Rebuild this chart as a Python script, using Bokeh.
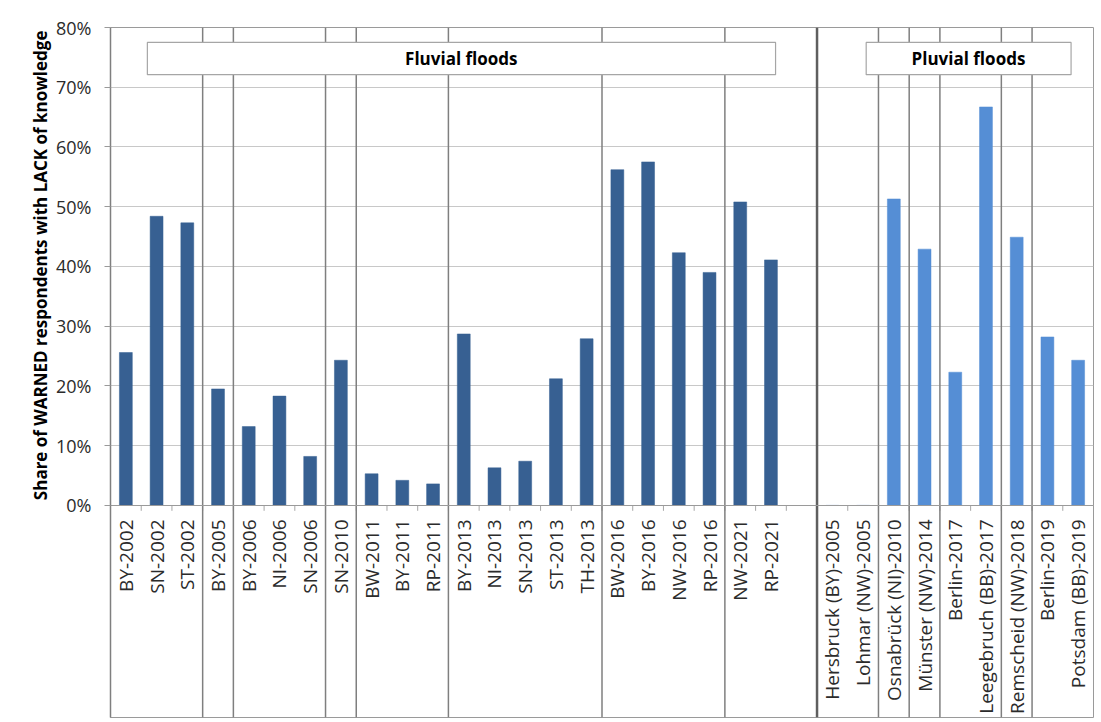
import math
from itertools import accumulate
from bokeh.plotting import figure
from bokeh.models import FactorRange, Range1d, FixedTicker, PrintfTickFormatter, Title
from bokeh.embed import file_html
from bokeh.resources import INLINE
from bokeh.core.properties import value

# ---------------- data ----------------
fluvial_groups = [
    ["BY-2002", "SN-2002", "ST-2002"],
    ["BY-2005"],
    ["BY-2006", "NI-2006", "SN-2006"],
    ["SN-2010"],
    ["BW-2011", "BY-2011", "RP-2011"],
    ["BY-2013", "NI-2013", "SN-2013", "ST-2013", "TH-2013"],
    ["BW-2016", "BY-2016", "NW-2016", "RP-2016"],
    ["NW-2021", "RP-2021"],
]
fluvial_share = [25.6, 48.4, 47.3, 19.5, 13.2, 18.3, 8.2, 24.3, 5.3, 4.2, 3.6,
                 28.7, 6.3, 7.4, 21.2, 27.9, 56.2, 57.5, 42.3, 39.0, 50.8, 41.1]

pluvial_groups = [
    ["Hersbruck (BY)-2005", "Lohmar (NW)-2005"],
    ["Osnabrück (NI)-2010"],
    ["Münster (NW)-2014"],
    ["Berlin-2017", "Leegebruch (BB)-2017"],
    ["Remscheid (NW)-2018"],
    ["Berlin-2019", "Potsdam (BB)-2019"],
]
pluvial_share = [0.0, 0.0, 51.3, 42.9, 22.3, 66.7, 44.9, 28.2, 24.3]

spacer = " "  # empty slot closing the fluvial block
y_ticks = [0, 10, 20, 30, 40, 50, 60, 70, 80]
y_title = "Share of WARNED respondents with LACK of knowledge"
fluvial_title = "Fluvial floods"
pluvial_title = "Pluvial floods"

# ---------------- derived ----------------
fluvial_events = [e for g in fluvial_groups for e in g]
pluvial_events = [e for g in pluvial_groups for e in g]
fl_groups_full = fluvial_groups[:-1] + [fluvial_groups[-1] + [spacer]]
categories = [e for g in fl_groups_full for e in g] + pluvial_events

fl_bounds = list(accumulate(len(g) for g in fl_groups_full))
divider = fl_bounds[-1]
pl_bounds = [divider + b for b in accumulate(len(g) for g in pluvial_groups)]
inner_bounds = fl_bounds[:-1] + pl_bounds[:-1]

Y_BOTTOM = -35.5
Y_TOP = 80

FONT = "Open Sans"
TEXT = "#2b2b2b"
DARK_BLUE = "#376092"
LIGHT_BLUE = "#558ED5"

p = figure(
    width=1096, height=720,
    x_range=FactorRange(factors=categories),
    y_range=Range1d(Y_BOTTOM, Y_TOP),
    output_backend="svg", toolbar_location=None,
    min_border_left=110, min_border_top=27, min_border_right=3, min_border_bottom=3,
)
p.outline_line_color = "#9a9a9a"
p.outline_line_width = 1

# grid
p.xgrid.grid_line_color = None
p.ygrid.ticker = FixedTicker(ticks=y_ticks)
p.ygrid.grid_line_color = "#c8c8c8"
p.ygrid.grid_line_width = 1

# y axis
p.yaxis.ticker = FixedTicker(ticks=y_ticks)
p.yaxis.formatter = PrintfTickFormatter(format="%d%%")
p.yaxis.axis_line_color = "#7f7f7f"
p.yaxis.axis_line_width = 1.5
p.yaxis.major_tick_line_color = "#9a9a9a"
p.yaxis.major_tick_in = 0
p.yaxis.major_tick_out = 6
p.yaxis.minor_tick_line_color = None
p.yaxis.major_label_standoff = 13
p.yaxis.major_label_text_font = FONT
p.yaxis.major_label_text_font_size = "18px"
p.yaxis.major_label_text_color = TEXT

# x axis at 0%
p.xaxis.fixed_location = 0
p.xaxis.axis_line_color = "#9a9a9a"
p.xaxis.major_tick_line_color = None
p.xaxis.major_tick_out = 0
p.xaxis.major_tick_in = 0
p.xaxis.major_label_standoff = 14
p.xaxis.major_label_orientation = math.pi / 2
p.xaxis.major_label_text_font = FONT
p.xaxis.major_label_text_font_size = "19px"
p.xaxis.major_label_text_color = TEXT

# small category-boundary ticks below 0%
tick_x = list(range(1, len(categories)))
p.segment(x0=tick_x, x1=tick_x, y0=[0] * len(tick_x), y1=[-0.9] * len(tick_x),
          line_color="#a6a6a6", line_width=1)

# group separators
p.segment(x0=inner_bounds, x1=inner_bounds,
          y0=[Y_BOTTOM] * len(inner_bounds), y1=[Y_TOP] * len(inner_bounds),
          line_color="#7f7f7f", line_width=1.5)
p.segment(x0=[divider], x1=[divider], y0=[Y_BOTTOM], y1=[Y_TOP],
          line_color="#5f5f5f", line_width=2.5)

# bars
p.vbar(x=fluvial_events, top=fluvial_share, bottom=0, width=0.42,
       fill_color=DARK_BLUE, line_color=DARK_BLUE, line_width=0.5)
p.vbar(x=pluvial_events, top=pluvial_share, bottom=0, width=0.42,
       fill_color=LIGHT_BLUE, line_color=LIGHT_BLUE, line_width=0.5)

# section boxes
p.quad(left=[1.2, 24.6], right=[21.65, 31.27], bottom=[72.1, 72.1], top=[77.5, 77.5],
       fill_color="white", line_color="#a6a6a6", line_width=1.2)
p.text(x=[11.42, 27.93], y=[74.8, 74.8], text=[fluvial_title, pluvial_title],
       text_align="center", text_baseline="middle",
       text_font=value(FONT), text_font_style="bold", text_font_size="17px",
       text_color="black")

# y-axis title, placed as a left-side title aligned to the top of the 0-80% area
p.add_layout(Title(text=y_title, align="right", offset=3, standoff=4,
                   text_font=FONT, text_font_style="bold", text_font_size="17px",
                   text_color="black"), "left")

open("out.html", "w").write(file_html(p, INLINE))
